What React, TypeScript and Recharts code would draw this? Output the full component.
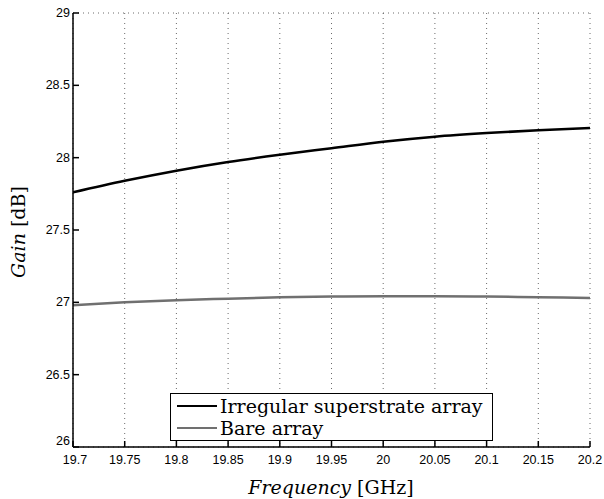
import { LineChart, Line, XAxis, YAxis, CartesianGrid } from 'recharts'

const freq = [19.7, 19.75, 19.8, 19.85, 19.9, 19.95, 20.0, 20.05, 20.1, 20.15, 20.2]
const superstrateGain = [27.76, 27.84, 27.91, 27.97, 28.02, 28.065, 28.11, 28.145, 28.17, 28.19, 28.205]
const bareGain = [26.98, 27.0, 27.015, 27.025, 27.035, 27.04, 27.042, 27.042, 27.04, 27.035, 27.03]
const xTicks = [19.7, 19.75, 19.8, 19.85, 19.9, 19.95, 20, 20.05, 20.1, 20.15, 20.2]
const yTicks = [26, 26.5, 27, 27.5, 28, 28.5, 29]

const data = freq.map((f, i) => ({ f, sup: superstrateGain[i], bare: bareGain[i] }))

const sans = 'Liberation Sans'
const serif = 'DejaVu Serif'

function YTick(props: any) {
  const { x, y, payload } = props
  const dy = payload.value === 26 ? -2 : 4
  return (
    <text x={x} y={y + dy} textAnchor="end" fontFamily={sans} fontSize={12.5} fill="#000">
      {payload.value}
    </text>
  )
}

function XTick(props: any) {
  const { x, y, payload } = props
  const dx = payload.value === 19.7 ? 2 : 0
  return (
    <text x={x + dx} y={y + 14} textAnchor="middle" fontFamily={sans} fontSize={12.5} fill="#000">
      {payload.value}
    </text>
  )
}

function LegendBox() {
  return (
    <div
      style={{
        position: 'absolute',
        left: 170,
        top: 393,
        border: '1.5px solid #000',
        background: '#fff',
        width: 323,
        height: 48,
        boxSizing: 'border-box',
        padding: '1px 6px',
        fontFamily: serif,
        fontSize: 19,
        lineHeight: '22px',
        color: '#000'
      }}
    >
      <div style={{ display: 'flex', alignItems: 'center' }}>
        <span style={{ display: 'inline-block', width: 40, height: 2.5, background: '#000', marginRight: 3 }} />
        Irregular superstrate array
      </div>
      <div style={{ display: 'flex', alignItems: 'center' }}>
        <span style={{ display: 'inline-block', width: 40, height: 2.5, background: '#707070', marginRight: 3 }} />
        Bare array
      </div>
    </div>
  )
}

export default function App() {
  return (
    <div style={{ position: 'absolute', left: 0, top: 0, width: 604, height: 499, background: '#fff' }}>
      <LineChart width={604} height={499} data={data} margin={{ top: 13, right: 14, left: 0, bottom: 0 }}>
        <CartesianGrid stroke="#444" strokeWidth={0.8} strokeDasharray="1 4" />
        <XAxis
          xAxisId="b"
          dataKey="f"
          type="number"
          domain={[19.7, 20.2]}
          ticks={xTicks}
          allowDataOverflow
          height={52}
          tick={<XTick />}
          tickSize={-6}
          tickMargin={9}
          stroke="#000"
          strokeWidth={1.5}
          label={{
            content: () => (
              <text x={331} y={494} textAnchor="middle" fontFamily={serif} fontSize={19} fill="#000">
                <tspan fontStyle="italic">Frequency</tspan> [GHz]
              </text>
            )
          }}
        />
        <XAxis
          xAxisId="t"
          dataKey="f"
          type="number"
          orientation="top"
          domain={[19.7, 20.2]}
          ticks={xTicks}
          height={0}
          tick={false}
          tickSize={-6}
          stroke="#000"
          strokeWidth={1.5}
        />
        <YAxis
          yAxisId="l"
          type="number"
          domain={[26, 29]}
          ticks={yTicks}
          width={73}
          tick={<YTick />}
          tickSize={-6}
          tickMargin={9}
          stroke="#000"
          strokeWidth={1.5}
          label={{
            content: () => (
              <text
                x={25}
                y={232}
                textAnchor="middle"
                transform="rotate(-90 25 232)"
                fontFamily={serif}
                fontSize={19}
                fill="#000"
              >
                <tspan fontStyle="italic">Gain</tspan> [dB]
              </text>
            )
          }}
        />
        <YAxis
          yAxisId="r"
          type="number"
          orientation="right"
          domain={[26, 29]}
          ticks={yTicks}
          width={0}
          tick={false}
          tickSize={-6}
          stroke="#000"
          strokeWidth={1.5}
        />
        <Line
          xAxisId="b"
          yAxisId="l"
          type="monotone"
          dataKey="sup"
          stroke="#000"
          strokeWidth={2.5}
          dot={false}
          isAnimationActive={false}
        />
        <Line
          xAxisId="b"
          yAxisId="l"
          type="monotone"
          dataKey="bare"
          stroke="#707070"
          strokeWidth={2.5}
          dot={false}
          isAnimationActive={false}
        />
      </LineChart>
      <LegendBox />
    </div>
  )
}
